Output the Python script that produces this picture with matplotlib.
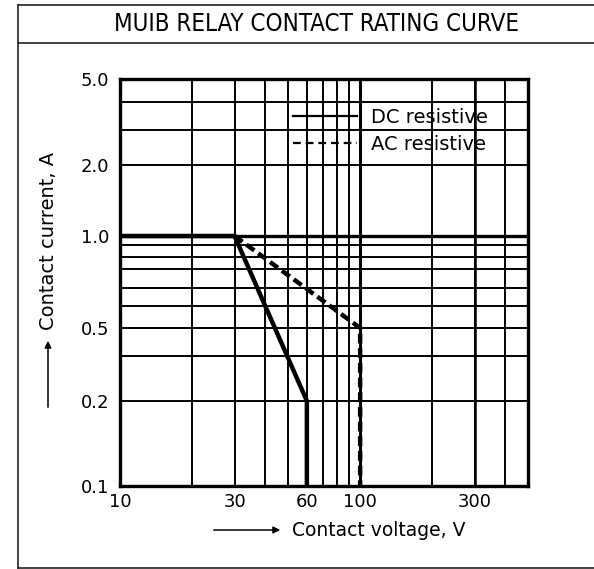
import numpy as np
import matplotlib
matplotlib.use('Agg')
import matplotlib.pyplot as plt
from matplotlib.lines import Line2D

# DC resistive load limit
dc_volt = [10, 30, 60, 60]
dc_amp = [1.0, 1.0, 0.2, 0.1]
# AC resistive load limit
ac_volt = [30, 100, 100]
ac_amp = [1.0, 0.5, 0.1]

x_major = [10, 30, 60, 100, 300]
x_major_labels = ['10', '30', '60', '100', '300']
x_minor = [20, 40, 50, 70, 80, 90, 200, 400, 500]
y_major = [0.1, 0.2, 0.5, 1.0, 2.0, 5.0]
y_major_labels = ['0.1', '0.2', '0.5', '1.0', '2.0', '5.0']
y_minor = [0.3, 0.55, 0.6, 0.7, 0.8, 0.9, 3.0, 4.0]

# the current axis on the sheet is hand drawn, not a true log scale,
# so the scale follows where each grid line sits (pixels from the top)
y_grid_vals = [0.1, 0.2, 0.3, 0.5, 0.55, 0.6, 0.7, 0.8, 0.9, 1.0, 2.0, 3.0, 4.0, 5.0]
y_grid_px = [486, 401, 356, 328, 306, 288, 269, 257, 245, 236, 165, 130, 102, 79]

W, H = 594, 569


def fig_xy(x, y):
    return x / W, 1 - y / H


def y_fwd(v):
    v = np.clip(np.asarray(v, dtype=float), 1e-9, None)
    return -np.interp(np.log10(v), np.log10(y_grid_vals), y_grid_px)


def y_inv(u):
    u = np.asarray(u, dtype=float)
    return 10 ** np.interp(u, -np.array(y_grid_px, dtype=float), np.log10(y_grid_vals))


plt.rcParams['font.family'] = ['DejaVu Sans']

fig = plt.figure(figsize=(5.94, 5.69), dpi=100)
ax = fig.add_axes([120 / W, 1 - 486 / H, 408 / W, 407 / H])
ax.set_xscale('log')
ax.set_yscale('function', functions=(y_fwd, y_inv))
ax.set_xlim(10, 500)
ax.set_ylim(0.1, 5.0)

ax.set_xticks(x_major, x_major_labels, fontsize=13)
ax.set_xticks(x_minor, [''] * len(x_minor), minor=True)
ax.set_yticks(y_major, y_major_labels, fontsize=13)
ax.set_yticks(y_minor, [''] * len(y_minor), minor=True)
ax.tick_params(which='both', length=0)
ax.tick_params(axis='x', pad=5)
ax.tick_params(axis='y', pad=8)

ax.grid(True, which='both', color='black', lw=1.4)
ax.axhline(1.0, color='black', lw=2.4)
ax.axvline(100, color='black', lw=2.2)
ax.axvline(300, color='black', lw=1.8)

ax.plot(dc_volt, dc_amp, color='black', lw=3.2, solid_capstyle='butt')
ax.plot(ac_volt, ac_amp, color='black', lw=3.2, linestyle=(0, (2.2, 1.1)),
        dash_capstyle='butt')

for s in ax.spines.values():
    s.set_linewidth(2.4)
    s.set_zorder(5)

handles = [Line2D([], [], color='black', lw=1.6),
           Line2D([], [], color='black', lw=1.6, linestyle=(0, (3.5, 2.2)))]
ax.legend(handles, ['DC resistive', 'AC resistive'], loc='upper left',
          bbox_to_anchor=(0.40, 0.953), frameon=False, borderpad=0,
          handlelength=3.3, handletextpad=0.7, labelspacing=0.4,
          prop={'size': 14})

# axis captions with their arrows
fig.text(*fig_xy(379, 530), 'Contact voltage, V', ha='center', va='center', fontsize=13.5)
ax.annotate('', xy=fig_xy(283, 530), xytext=fig_xy(211, 530), xycoords='figure fraction',
            arrowprops=dict(arrowstyle='-|>', color='black', lw=1.1, mutation_scale=10))
fig.text(*fig_xy(49, 241), 'Contact current, A', rotation=90, ha='center', va='center',
         fontsize=14)
ax.annotate('', xy=fig_xy(48, 338), xytext=fig_xy(48, 410), xycoords='figure fraction',
            arrowprops=dict(arrowstyle='-|>', color='black', lw=1.1, mutation_scale=10))

# title block (the sheet's frame runs past the right edge of the picture)
fig.text(*fig_xy(317, 24), 'MUIB RELAY CONTACT RATING CURVE', ha='center', va='center',
         family='DejaVu Sans', fontstretch='condensed', fontweight='light', fontsize=17.3)
for xs, ys in [([18, 18], [5, 568]), ([18, 594], [5, 5]), ([18, 594], [43, 43]),
               ([18, 594], [568, 568])]:
    fig.add_artist(Line2D([x / W for x in xs], [1 - y / H for y in ys], color='#222222', lw=1.2))

fig.savefig('out.png', dpi=100)
